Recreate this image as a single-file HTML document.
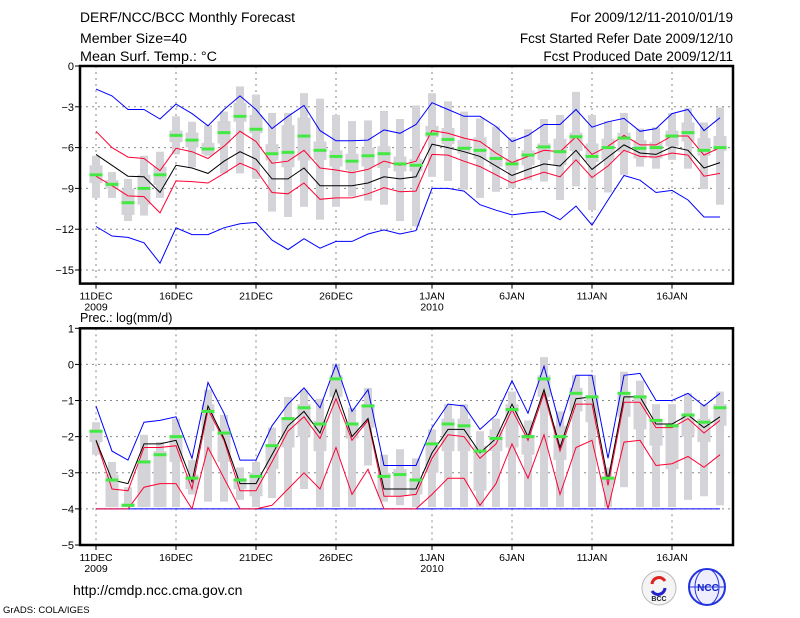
<!DOCTYPE html>
<html><head><meta charset="utf-8"><style>
html,body{margin:0;padding:0;background:#fff;}
svg{display:block;font-family:"Liberation Sans",sans-serif;}
</style></head><body>
<svg id="c" width="800" height="618" viewBox="0 0 800 618" xmlns="http://www.w3.org/2000/svg">
<g font-size="13.5" fill="#000">
<text x="80" y="22" textLength="215" lengthAdjust="spacingAndGlyphs">DERF/NCC/BCC Monthly Forecast</text>
<text x="80" y="43" textLength="107" lengthAdjust="spacingAndGlyphs">Member Size=40</text>
<text x="80" y="61" textLength="137" lengthAdjust="spacingAndGlyphs">Mean Surf. Temp.: °C</text>
<text x="733" y="22" text-anchor="end">For 2009/12/11-2010/01/19</text>
<text x="733" y="43" text-anchor="end">Fcst Started Refer Date 2009/12/10</text>
<text x="733" y="61" text-anchor="end">Fcst Produced Date 2009/12/11</text>
</g>
<text x="80" y="322" font-size="12.5">Prec.: log(mm/d)</text>
<text x="73" y="595" font-size="14">http://cmdp.ncc.cma.gov.cn</text>
<text x="3" y="613" font-size="9.5">GrADS: COLA/IGES</text>
<g>
<circle cx="659" cy="588" r="17" fill="#f4f4f4" stroke="#bbb"/>
<path d="M652 584 a7 7 0 0 1 13 -3" stroke="#d22" stroke-width="3" fill="none"/>
<path d="M665 588 a7 7 0 0 1 -13 3" stroke="#22c" stroke-width="3" fill="none"/>
<text x="659" y="601" font-size="7" text-anchor="middle" font-weight="bold" fill="#223">BCC</text>
</g>
<g>
<circle cx="707" cy="587" r="18" fill="#eef" stroke="#23d" stroke-width="2"/>
<ellipse cx="707" cy="587" rx="12" ry="18" fill="none" stroke="#23d"/>
<line x1="689" y1="587" x2="725" y2="587" stroke="#23d"/>
<text x="708" y="591" font-size="10" font-weight="bold" text-anchor="middle" fill="#12c">NCC</text>
</g>
<g id="plots"></g>
</svg>
<script>
// ---- data: temperature panel ----
const days = ["11DEC","12DEC","13DEC","14DEC","15DEC","16DEC","17DEC","18DEC","19DEC","20DEC","21DEC","22DEC","23DEC","24DEC","25DEC","26DEC","27DEC","28DEC","29DEC","30DEC","31DEC","1JAN","2JAN","3JAN","4JAN","5JAN","6JAN","7JAN","8JAN","9JAN","10JAN","11JAN","12JAN","13JAN","14JAN","15JAN","16JAN","17JAN","18JAN","19JAN"];
const xTickIdx = [0,5,10,15,21,26,31,36];
const xTickLabels = ["11DEC","16DEC","21DEC","26DEC","1JAN","6JAN","11JAN","16JAN"];
const xYearLabels = ["2009","","","","2010","","",""];
const tTicks = [0,-3,-6,-9,-12,-15];
const tBlueHi = [-1.7,-2.2,-3.2,-3.2,-3.9,-2.8,-3.5,-4.4,-3.2,-2.2,-3.2,-4.6,-3.7,-2.9,-4.75,-5.5,-5.5,-5.45,-4.7,-4.95,-4.3,-2.7,-3.2,-3.7,-3.7,-4.45,-5.55,-5.1,-4.3,-4.3,-3.2,-4.5,-4.1,-3.85,-4.8,-4.6,-3.5,-3.2,-4.75,-3.8];
const tBlueLo = [-11.8,-12.5,-12.6,-13.0,-14.5,-11.9,-12.4,-12.4,-11.9,-11.6,-11.5,-12.8,-13.5,-12.7,-13.4,-12.9,-12.9,-12.35,-12.05,-12.35,-12.1,-9.0,-9.0,-9.2,-10.2,-10.6,-10.95,-10.8,-10.7,-11.3,-10.3,-11.7,-9.85,-8.05,-8.4,-9.3,-9.15,-9.85,-11.1,-11.1];
const tRedHi = [-4.8,-6.0,-6.7,-6.8,-7.7,-6.05,-6.3,-6.8,-5.9,-4.8,-5.55,-7.15,-7.0,-6.2,-7.5,-7.65,-7.85,-7.6,-7.0,-7.3,-7.0,-4.75,-4.95,-5.3,-5.55,-6.4,-7.1,-6.65,-6.2,-6.3,-5.2,-6.5,-5.9,-5.1,-5.8,-5.8,-5.15,-5.15,-6.55,-6.0];
const tMean = [-6.5,-7.3,-8.1,-8.15,-9.3,-7.3,-7.5,-7.9,-7.0,-6.3,-6.85,-8.3,-8.3,-7.5,-8.8,-8.8,-8.8,-8.6,-8.15,-8.3,-8.15,-5.75,-6.0,-6.3,-6.65,-7.35,-8.05,-7.6,-7.2,-7.35,-6.2,-7.6,-6.7,-5.8,-6.4,-6.5,-5.95,-6.2,-7.5,-7.1];
const tRedLo = [-8.1,-8.8,-9.55,-9.6,-10.8,-8.45,-8.5,-8.6,-7.9,-7.15,-7.65,-9.3,-9.4,-8.6,-9.8,-9.7,-9.7,-9.4,-8.95,-9.25,-9.2,-6.5,-6.55,-7.0,-7.4,-8.0,-8.6,-8.2,-7.8,-8.15,-6.9,-8.2,-7.35,-6.2,-6.65,-6.7,-6.4,-6.55,-8.1,-7.9];
const tObs = [-8.0,-8.7,-10.05,-9.0,-8.0,-5.1,-5.45,-6.1,-4.9,-3.7,-4.65,-6.45,-6.35,-5.15,-6.2,-6.65,-7.0,-6.6,-6.45,-7.2,-7.3,-5.0,-5.4,-6.05,-6.2,-6.8,-7.2,-6.55,-5.95,-6.3,-5.2,-6.65,-6.0,-5.3,-6.05,-6.0,-5.15,-4.9,-6.2,-6.0];
const tMax = [-6.6,-7.8,-8.3,-6.6,-6.3,-3.7,-4.1,-4.35,-3.35,-1.5,-2.1,-3.45,-3.45,-2.0,-2.4,-3.6,-4.05,-4.0,-3.3,-3.9,-2.9,-2.0,-2.6,-3.35,-3.85,-4.45,-5.25,-4.65,-3.9,-3.6,-1.9,-3.6,-4.05,-3.45,-4.6,-4.5,-3.45,-3.1,-4.15,-3.05];
const tMin = [-9.7,-9.7,-11.4,-11.0,-9.7,-6.5,-7.45,-6.6,-7.9,-7.9,-8.3,-10.7,-11.1,-10.35,-11.3,-10.35,-9.6,-9.9,-10.2,-11.4,-11.8,-8.15,-8.45,-9.1,-9.7,-9.25,-9.0,-8.4,-8.5,-9.85,-8.85,-10.6,-9.3,-8.0,-7.4,-7.55,-6.9,-7.55,-9.05,-10.2];
const tQ3 = [-7.3,-8.4,-9.0,-8.0,-7.4,-4.75,-4.9,-5.65,-4.05,-2.7,-3.6,-5.75,-4.35,-3.8,-5.55,-6.2,-6.45,-6.0,-5.9,-6.65,-6.85,-4.4,-4.55,-5.45,-5.25,-6.05,-6.8,-6.2,-5.7,-5.35,-4.9,-5.7,-5.35,-4.9,-5.45,-5.6,-4.75,-4.15,-5.3,-5.15];
const tQ1 = [-8.6,-9.0,-10.95,-10.2,-8.75,-5.6,-6.0,-6.5,-5.7,-4.1,-4.95,-6.95,-7.45,-6.95,-6.9,-7.4,-7.65,-7.4,-7.5,-7.75,-7.75,-5.25,-5.75,-6.45,-6.85,-7.4,-7.65,-7.3,-6.9,-7.3,-6.25,-7.05,-6.9,-6.3,-6.8,-6.8,-5.9,-5.55,-6.6,-6.25];
// ---- data: precipitation panel ----
const pTicks = [1,0,-1,-2,-3,-4,-5];
const pBlueHi = [-1.15,-2.4,-2.65,-1.6,-1.55,-1.45,-2.6,-0.5,-1.35,-2.65,-2.65,-1.7,-1.1,-0.65,-1.2,0.0,-1.3,-0.7,-2.8,-2.8,-2.8,-1.75,-1.1,-1.15,-1.8,-1.4,-0.45,-1.35,-0.05,-1.7,-0.3,-0.3,-2.6,-0.3,-0.25,-1.0,-1.0,-0.8,-1.15,-0.8];
const pBlueLo = [-4,-4,-4,-4,-4,-4,-4,-4,-4,-4,-4,-4,-4,-4,-4,-4,-4,-4,-4,-4,-4,-4,-4,-4,-4,-4,-4,-4,-4,-4,-4,-4,-4,-4,-4,-4,-4,-4,-4,-4];
const pRedHi = [-2.1,-3.45,-3.5,-2.3,-2.3,-2.25,-3.45,-1.25,-2.1,-3.5,-3.5,-2.7,-1.85,-1.45,-2.05,-0.95,-2.1,-1.55,-3.65,-3.65,-3.6,-2.6,-1.95,-2.0,-2.6,-2.2,-1.25,-2.1,-0.8,-2.4,-1.1,-1.1,-3.35,-1.05,-1.05,-1.75,-1.75,-1.5,-1.9,-1.55];
const pMean = [-2.1,-3.2,-3.3,-2.2,-2.2,-2.1,-3.25,-1.15,-2.05,-3.3,-3.3,-2.5,-1.7,-1.3,-1.9,-0.7,-2.0,-1.5,-3.45,-3.45,-3.45,-2.45,-1.8,-1.8,-2.45,-2.05,-1.1,-2.0,-0.7,-2.3,-0.95,-0.9,-3.2,-0.9,-0.9,-1.65,-1.65,-1.4,-1.75,-1.45];
const pRedLo = [-4.0,-4.0,-4.0,-3.4,-3.3,-3.3,-4.0,-2.3,-3.15,-4.0,-4.0,-3.9,-3.45,-3.0,-3.45,-2.3,-3.6,-2.9,-4.0,-4.0,-4.0,-3.6,-3.15,-3.15,-3.9,-3.3,-2.2,-3.15,-1.95,-3.6,-2.3,-2.1,-4.0,-2.15,-2.1,-2.8,-2.75,-2.55,-2.85,-2.5];
const pObs = [-1.85,-3.2,-3.9,-2.7,-2.5,-2.0,-3.15,-1.3,-1.9,-3.2,-3.1,-2.25,-1.5,-1.2,-1.65,-0.4,-1.65,-1.15,-3.1,-3.05,-3.2,-2.2,-1.65,-1.7,-2.4,-2.05,-1.25,-2.0,-0.4,-2.0,-0.8,-0.9,-3.15,-0.8,-0.9,-1.55,-1.7,-1.4,-1.6,-1.2];
const pMax = [-1.6,-2.7,-3.4,-1.95,-2.15,-1.5,-2.65,-0.7,-1.4,-2.85,-2.7,-1.75,-0.9,-0.7,-0.95,0.0,-1.2,-0.65,-2.5,-2.35,-2.6,-1.8,-1.1,-1.1,-1.85,-1.5,-0.75,-1.55,0.2,-1.3,-0.3,-0.3,-2.85,-0.2,-0.45,-1.1,-1.1,-0.8,-1.1,-0.75];
const pMin = [-2.5,-3.95,-3.95,-3.95,-3.95,-3.95,-3.6,-3.8,-3.8,-3.75,-3.95,-3.7,-3.95,-3.45,-3.95,-3.95,-3.95,-2.8,-3.8,-3.9,-3.95,-3.95,-3.95,-3.95,-3.95,-3.95,-3.95,-3.95,-3.95,-3.95,-3.95,-3.95,-3.95,-3.4,-3.95,-3.95,-3.95,-3.75,-3.65,-3.9];
const pQ3 = [-1.8,-3.05,-3.85,-2.65,-2.4,-1.95,-3.05,-1.1,-1.75,-3.15,-3.0,-2.2,-1.5,-1.1,-1.55,-0.3,-1.6,-1.1,-3.0,-2.9,-3.15,-2.15,-1.5,-1.5,-2.25,-1.8,-1.1,-1.95,-0.3,-1.7,-0.65,-0.85,-3.1,-0.85,-0.85,-1.5,-1.65,-1.4,-1.5,-1.1];
const pQ1 = [-2.15,-3.95,-3.95,-3.95,-3.95,-2.7,-3.45,-1.85,-2.7,-3.45,-3.65,-2.9,-2.3,-2.0,-2.4,-0.9,-2.05,-1.75,-3.65,-3.65,-3.6,-3.0,-2.4,-2.4,-3.5,-2.4,-2.3,-2.5,-0.9,-2.65,-1.3,-1.6,-3.35,-1.45,-1.8,-2.25,-2.9,-2.0,-2.15,-1.7];

const NS='http://www.w3.org/2000/svg';
const root=document.getElementById('plots');
function mk(tag,attrs,parent){const e=document.createElementNS(NS,tag);for(const k in attrs)e.setAttribute(k,attrs[k]);(parent||root).appendChild(e);return e;}
const X0=80,X1=733;
function xs(i){return 96+i*16;}

function panel(cfg){
  const g=mk('g',{});
  
  
  const ys=v=>cfg.top+(cfg.vmax-v)*(cfg.bot-cfg.top)/(cfg.vmax-cfg.vmin);
  // grid
  xTickIdx.forEach(i=>{const l=mk('line',{x1:xs(i),x2:xs(i),y1:cfg.top,y2:cfg.bot,stroke:'#888','stroke-dasharray':'2,4','stroke-width':1},g);
    
    });
  cfg.ticks.forEach(v=>{if(v===cfg.vmax||v===cfg.vmin)return;const l=mk('line',{x1:X0,x2:X1,y1:ys(v),y2:ys(v),stroke:'#888','stroke-dasharray':'2,4','stroke-width':1},g);
    
    });
  // boxes
  for(let i=0;i<days.length;i++){
    const x=xs(i);
    const o=mk('rect',{x:x-4,y:ys(cfg.max[i]),width:8,height:Math.max(1,ys(cfg.min[i])-ys(cfg.max[i])),fill:'#d4d4d8'},g);
    
    
    const q=mk('rect',{x:x-6.5,y:ys(cfg.q3[i]),width:13,height:Math.max(1,ys(cfg.q1[i])-ys(cfg.q3[i])),fill:'#d4d4d8'},g);
    
    
  }
  const line=(arr,col,nm)=>{const p=mk('polyline',{points:arr.map((v,i)=>xs(i)+','+ys(v).toFixed(1)).join(' '),fill:'none',stroke:col,'stroke-width':1},g);
    
    };
  line(cfg.blueLo,'#0000ff','blue-lower-line');
  line(cfg.blueHi,'#0000ff','blue-upper-line');
  line(cfg.redLo,'#ff0033','red-lower-line');
  line(cfg.redHi,'#ff0033','red-upper-line');
  line(cfg.mean,'#000','ensemble-mean-line');
  for(let i=0;i<days.length;i++){
    const r=mk('rect',{x:xs(i)-6.5,y:ys(cfg.obs[i])-1.5,width:13,height:3,fill:'#44e844'},g);
    
    
  }
  // frame
  const f=mk('rect',{x:X0,y:cfg.top,width:X1-X0,height:cfg.bot-cfg.top,fill:'none',stroke:'#000','stroke-width':2.5},g);
  
  
  cfg.ticks.forEach(v=>{mk('line',{x1:X0-5,x2:X0,y1:ys(v),y2:ys(v),stroke:'#000'},g);
    const t=mk('text',{x:X0-6,y:ys(v)+4,'font-size':11,'text-anchor':'end'},g);t.textContent=String(v).replace('-','−');
    
    });
  xTickIdx.forEach((i,k)=>{mk('line',{x1:xs(i),x2:xs(i),y1:cfg.bot,y2:cfg.bot+5,stroke:'#000'},g);
    const t=mk('text',{x:xs(i),y:cfg.bot+16,'font-size':10.5,'text-anchor':'middle'},g);t.textContent=xTickLabels[k];
    
    
    if(xYearLabels[k]){const y=mk('text',{x:xs(i),y:cfg.bot+27,'font-size':10.5,'text-anchor':'middle'},g);y.textContent=xYearLabels[k];
    
    }});
}
panel({name:'temperature-panel',top:66,bot:283.6,vmax:0,vmin:-16,ticks:tTicks,max:tMax,min:tMin,q3:tQ3,q1:tQ1,blueHi:tBlueHi,blueLo:tBlueLo,redHi:tRedHi,redLo:tRedLo,mean:tMean,obs:tObs});
panel({name:'precipitation-panel',top:328.3,bot:545,vmax:1,vmin:-5,ticks:pTicks,max:pMax,min:pMin,q3:pQ3,q1:pQ1,blueHi:pBlueHi,blueLo:pBlueLo,redHi:pRedHi,redLo:pRedLo,mean:pMean,obs:pObs});
</script>
</body></html>
